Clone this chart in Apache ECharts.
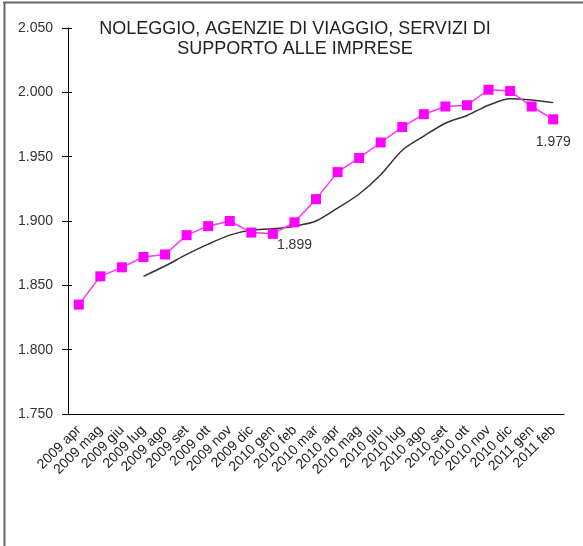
<!DOCTYPE html>
<html>
<head>
<meta charset="utf-8">
<script src="https://cdn.jsdelivr.net/npm/echarts@6/dist/echarts.min.js"></script>
<style>
  html, body { margin: 0; padding: 0; background: #fff; }
  #chart { width: 583px; height: 546px; }
</style>
</head>
<body>
<div id="chart"></div>
<script>
// mesi
const categories = [
  '2009 apr', '2009 mag', '2009 giu', '2009 lug', '2009 ago', '2009 set',
  '2009 ott', '2009 nov', '2009 dic', '2010 gen', '2010 feb', '2010 mar',
  '2010 apr', '2010 mag', '2010 giu', '2010 lug', '2010 ago', '2010 set',
  '2010 ott', '2010 nov', '2010 dic', '2011 gen', '2011 feb'
]
// valori mensili (migliaia)
const valori = [
  1835, 1857, 1864, 1872, 1874, 1889, 1896, 1900, 1891, 1890, 1899, 1917,
  1938, 1949, 1961, 1973, 1983, 1989, 1990, 2002, 2001, 1989, 1979
]
// linea di tendenza (parte da 2009 lug)
const tendenza = [
  null, null, null, 1857, 1865, 1874, 1882, 1889, 1893, 1894, 1896, 1900,
  1910, 1921, 1936, 1955, 1966, 1976, 1982, 1990, 1995, 1994, 1992
]
// etichette valori mostrate
const etichette = { 10: true, 22: true }

const fmt = v => {
  const s = String(Math.round(v))
  return s.slice(0, s.length - 3) + '.' + s.slice(-3)
}

const chart = echarts.init(document.getElementById('chart'))
const font = 'Liberation Sans, Arial, sans-serif'

const option = {
  animation: false,
  backgroundColor: '#fff',
  title: {
    text: 'NOLEGGIO, AGENZIE DI VIAGGIO, SERVIZI DI\nSUPPORTO ALLE IMPRESE',
    left: 290,
    top: 14,
    textAlign: 'center',
    textStyle: {
      fontFamily: font,
      fontSize: 18,
      fontWeight: 'normal',
      color: '#222',
      lineHeight: 20
    }
  },
  grid: [
    { left: 68, right: 19, top: 28, bottom: 132 },
    { left: 68, right: 19, top: 28, bottom: 132 }
  ],
  xAxis: [
    {
      type: 'category',
      gridIndex: 0,
      data: categories,
      boundaryGap: true,
      axisLine: { lineStyle: { color: '#000', width: 1 } },
      axisTick: { interval: 0, length: 5, lineStyle: { color: '#000' } },
      axisLabel: {
        interval: 0,
        rotate: 45,
        margin: 14,
        fontFamily: font,
        fontSize: 14,
        color: '#222'
      }
    },
    {
      type: 'category',
      gridIndex: 1,
      data: categories,
      boundaryGap: true,
      axisLine: { show: false },
      axisTick: { interval: 0, inside: true, length: 5, lineStyle: { color: '#000' } },
      axisLabel: { show: false }
    }
  ],
  yAxis: [
    {
      type: 'value',
      gridIndex: 0,
      min: 1750,
      max: 2050,
      interval: 50,
      axisLine: { show: true, lineStyle: { color: '#000', width: 1 } },
      axisTick: { show: true, length: 6, lineStyle: { color: '#000' } },
      splitLine: { show: false },
      axisLabel: {
        margin: 15,
        fontFamily: font,
        fontSize: 14,
        color: '#333',
        formatter: fmt
      }
    },
    {
      type: 'value',
      gridIndex: 1,
      min: 1750,
      max: 2050,
      interval: 50,
      axisLine: { show: false },
      axisTick: { show: true, inside: true, length: 4, lineStyle: { color: '#000' } },
      splitLine: { show: false },
      axisLabel: { show: false }
    }
  ],
  series: [
    {
      name: 'tendenza',
      type: 'line',
      xAxisIndex: 0,
      yAxisIndex: 0,
      data: tendenza,
      smooth: 0.3,
      showSymbol: false,
      lineStyle: { color: '#333', width: 1.5 },
      z: 2
    },
    {
      name: 'valori',
      type: 'line',
      xAxisIndex: 0,
      yAxisIndex: 0,
      data: valori.map((v, i) => ({
        value: v,
        label: {
          show: !!etichette[i],
          position: 'bottom',
          distance: 11,
          fontFamily: font,
          fontSize: 14,
          color: '#333',
          formatter: p => fmt(p.value)
        }
      })),
      symbol: 'rect',
      symbolSize: 10,
      itemStyle: { color: '#ff00ff' },
      lineStyle: { color: '#ff33ff', width: 1.5 },
      z: 3
    }
  ],
  graphic: [
    { type: 'line', shape: { x1: 3, y1: 2.5, x2: 583, y2: 2.5 }, style: { stroke: '#666', lineWidth: 2 } },
    { type: 'line', shape: { x1: 4.5, y1: 2, x2: 4.5, y2: 546 }, style: { stroke: '#666', lineWidth: 2 } }
  ]
}

chart.setOption(option)
window.addEventListener('resize', () => chart.resize())
</script>
</body>
</html>
